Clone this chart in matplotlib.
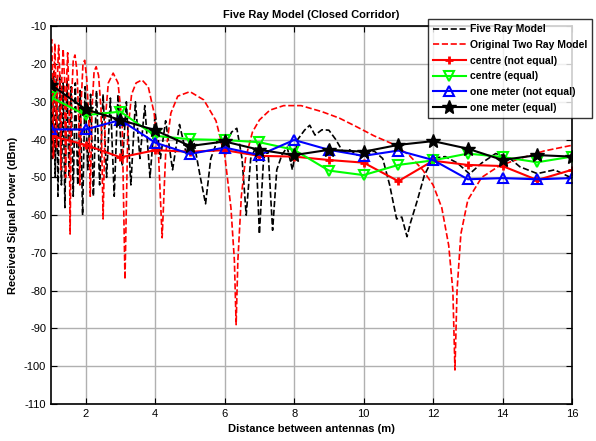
import matplotlib
matplotlib.use("Agg")
import matplotlib.pyplot as plt

plt.rcParams['font.family'] = ['Liberation Sans', 'DejaVu Sans']
plt.rcParams['axes.unicode_minus'] = False

# ---- data ----
dist = [1, 2, 3, 4, 5, 6, 7, 8, 9, 10, 11, 12, 13, 14, 15, 16]
centre_not_equal = [-39, -41.4, -44.7, -42.8, -43.2, -42.8, -44.3, -44.5, -45.4, -46.1, -51.0, -45.6, -46.7, -47.0, -50.7, -48.0]
centre_equal = [-28.8, -33.5, -32.6, -39.0, -39.9, -40.1, -40.7, -42.7, -48.2, -49.4, -46.7, -45.5, -43.7, -44.6, -46.0, -44.5]
one_meter_not_equal = [-37.3, -37.3, -34.8, -40.8, -43.8, -42.1, -44.1, -40.1, -42.7, -44.3, -42.9, -45.4, -50.5, -50.2, -50.5, -50.2]
one_meter_equal = [-25.5, -32.0, -34.8, -37.5, -41.7, -40.5, -42.7, -44.1, -42.7, -43.2, -41.4, -40.4, -42.4, -45.4, -44.1, -44.5]

two_ray_x = [1.00, 1.02, 1.05, 1.07, 1.09, 1.11, 1.13, 1.16, 1.19, 1.22, 1.25, 1.28, 1.31, 1.35, 1.39,
             1.42, 1.45, 1.48, 1.52, 1.55, 1.59, 1.64, 1.69, 1.75, 1.80, 1.83, 1.87, 1.92, 1.97, 2.03,
             2.09, 2.13, 2.18, 2.24, 2.30, 2.37, 2.44, 2.50, 2.56, 2.65, 2.79, 2.93, 3.05, 3.13, 3.21,
             3.32, 3.45, 3.62, 3.80, 3.97, 4.10, 4.20, 4.30, 4.45, 4.65, 5.00, 5.40, 5.75, 6.00, 6.18,
             6.28, 6.33, 6.38, 6.48, 6.60, 6.80, 7.00, 7.30, 7.70, 8.20, 8.80, 9.30, 9.80, 10.30, 10.80,
             11.30, 11.70, 12.00, 12.25, 12.45, 12.57, 12.63, 12.69, 12.80, 13.00, 13.40, 13.90, 14.50, 15.20, 16.00]
two_ray_y = [-14.0, -13.5, -25.0, -45.0, -25.0, -14.5, -22.0, -42.0, -22.0, -15.0, -22.0, -48.0, -24.0, -16.0, -24.0,
             -50.0, -24.0, -17.0, -30.0, -65.0, -30.0, -19.0, -17.6, -22.0, -35.0, -52.0, -30.0, -20.0, -19.0, -24.0,
             -35.0, -55.0, -32.0, -22.0, -20.7, -23.0, -32.0, -61.0, -35.0, -25.0, -22.4, -25.0, -36.0, -77.0, -38.0,
             -28.0, -25.0, -24.2, -26.0, -33.0, -45.0, -66.0, -44.0, -33.0, -28.5, -27.3, -29.5, -35.0, -44.0, -58.0,
             -72.0, -89.0, -72.0, -55.0, -45.0, -38.0, -34.8, -32.2, -31.0, -31.0, -32.6, -34.3, -36.6, -39.0, -41.0,
             -44.0, -48.0, -52.0, -58.0, -68.0, -80.0, -101.0, -80.0, -65.0, -56.0, -50.0, -47.0, -45.0, -43.0, -41.5]

five_ray_x = [1.00, 1.04, 1.08, 1.12, 1.16, 1.20, 1.25, 1.30, 1.35, 1.40, 1.46, 1.52, 1.58, 1.64, 1.70,
              1.77, 1.84, 1.91, 1.98, 2.06, 2.14, 2.22, 2.31, 2.40, 2.50, 2.60, 2.71, 2.82, 2.93, 3.05,
              3.17, 3.30, 3.43, 3.56, 3.70, 3.85, 4.00, 4.15, 4.30, 4.50, 4.70, 4.90, 5.10, 5.30, 5.45,
              5.60, 5.80, 6.00, 6.20, 6.35, 6.50, 6.62, 6.75, 6.90, 7.00, 7.12, 7.25, 7.38, 7.50, 7.65,
              7.80, 7.95, 8.10, 8.30, 8.45, 8.60, 8.80, 9.00, 9.20, 9.40, 9.60, 9.80, 10.00, 10.30, 10.55,
              10.75, 10.95, 11.10, 11.25, 11.35, 11.55, 11.75, 12.00, 12.35, 12.70, 13.05, 13.40, 13.80, 14.15, 14.50,
              15.00, 15.50, 16.00]
five_ray_y = [-28.0, -45.0, -22.0, -50.0, -24.0, -55.0, -23.0, -52.0, -25.0, -58.0, -24.0, -50.0, -26.0, -55.0, -25.0,
              -52.0, -27.0, -60.0, -26.0, -48.0, -28.0, -55.0, -27.0, -52.0, -28.0, -50.0, -29.0, -55.0, -28.0, -47.0,
              -30.0, -52.0, -30.0, -45.0, -31.0, -50.0, -33.0, -45.0, -35.0, -48.0, -36.0, -44.0, -40.0, -50.0, -57.0,
              -45.0, -40.0, -42.0, -38.0, -37.0, -45.0, -60.0, -45.0, -42.0, -65.0, -45.0, -43.0, -64.0, -48.0, -44.0,
              -42.0, -48.0, -40.0, -37.5, -36.2, -38.8, -37.4, -37.5, -40.0, -43.2, -42.7, -44.0, -44.5, -43.0, -45.0,
              -52.0, -61.0, -60.5, -65.7, -62.0, -56.0, -49.4, -44.9, -44.5, -46.2, -49.1, -46.2, -43.7, -44.5, -47.2,
              -49.0, -48.0, -50.2]

# ---- figure ----
fig = plt.figure(figsize=(5.96, 4.41), dpi=100)
ax = fig.add_axes([51/596, 1-404/441, (572-51)/596, (404-26.3)/441])

ax.plot(five_ray_x, five_ray_y, color='black', ls='--', lw=1.2, label='Five Ray Model')
ax.plot(two_ray_x, two_ray_y, color='red', ls='--', lw=1.2, label='Original Two Ray Model')
ax.plot(dist, centre_not_equal, color='red', marker='+', ms=6, mew=2, lw=1.5, label='centre (not equal)')
ax.plot(dist, centre_equal, color='#00ff00', marker='v', ms=7, mfc='none', mew=1.5, lw=1.5, label='centre (equal)')
ax.plot(dist, one_meter_not_equal, color='blue', marker='^', ms=7, mfc='none', mew=1.5, lw=1.5, label='one meter (not equal)')
ax.plot(dist, one_meter_equal, color='black', marker='*', ms=10, lw=1.5, label='one meter (equal)')

ax.set_xlim(1, 16)
ax.set_ylim(-110, -10)
ax.set_xticks([2, 4, 6, 8, 10, 12, 14, 16])
ax.set_yticks(list(range(-110, 0, 10)))
ax.grid(True, color='#b0b0b0', lw=1)
ax.tick_params(direction='in', labelsize=8, length=4, top=True, right=True)
for s in ax.spines.values():
    s.set_linewidth(1.2)

ax.set_title('Five Ray Model (Closed Corridor)', fontsize=8, fontweight='bold', pad=6)
ax.set_xlabel('Distance between antennas (m)', fontsize=8, fontweight='bold')
ax.set_ylabel('Received Signal Power (dBm)', fontsize=8, fontweight='bold')

handles, labels = ax.get_legend_handles_labels()
leg = fig.legend(handles, labels, loc='upper left', bbox_to_anchor=(428/596, 1-19/441),
                 prop={'weight': 'bold', 'size': 7.5}, frameon=True, fancybox=False,
                 edgecolor='black', borderaxespad=0, handlelength=3.1, labelspacing=0.55,
                 borderpad=0.5, handletextpad=0.4)
leg.get_frame().set_linewidth(1.0)

fig.savefig('out.png', dpi=100)
